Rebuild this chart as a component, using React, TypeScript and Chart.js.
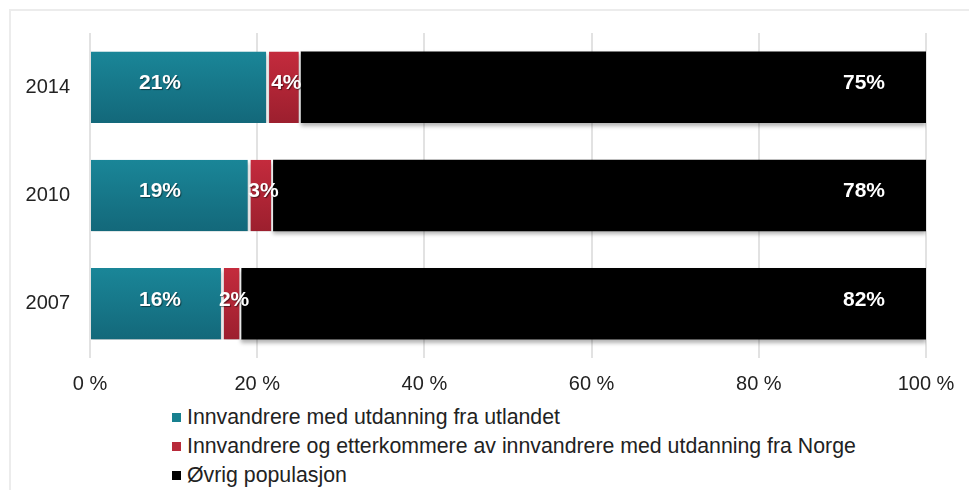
import React, { useEffect, useRef } from "react";
import { Chart, registerables } from "chart.js";

Chart.register(...registerables);

const years = ["2014", "2010", "2007"];
const utlandet = [21.3, 19.1, 15.9];
const norge = [3.9, 2.8, 2.2];
const ovrig = [74.8, 78.1, 81.9];
const labelsUtlandet = ["21%", "19%", "16%"];
const labelsNorge = ["4%", "3%", "2%"];
const labelsOvrig = ["75%", "78%", "82%"];
const seriesNames = [
  "Innvandrere med utdanning fra utlandet",
  "Innvandrere og etterkommere av innvandrere med utdanning fra Norge",
  "Øvrig populasjon",
];
const xTicks = [0, 20, 40, 60, 80, 100];

const FONT = "'Liberation Sans', Arial, sans-serif";

function gradientFor(top: string, bottom: string) {
  return (ctx: any) => {
    const chart = ctx.chart;
    const y = chart.scales?.y;
    if (!y || ctx.dataIndex === undefined) return top;
    const c = y.getPixelForValue(ctx.dataIndex);
    if (!Number.isFinite(c)) return top;
    const g = chart.ctx.createLinearGradient(0, c - 36, 0, c + 36);
    g.addColorStop(0, top);
    g.addColorStop(1, bottom);
    return g;
  };
}

const shadowPlugin = {
  id: "barShadow",
  beforeDatasetsDraw(chart: any) {
    const ctx = chart.ctx;
    ctx.save();
    ctx.shadowColor = "rgba(0,0,0,0.3)";
    ctx.shadowBlur = 4;
    ctx.shadowOffsetY = 3;
    ctx.shadowOffsetX = 0;
  },
  afterDatasetsDraw(chart: any) {
    chart.ctx.restore();
  },
};

const labelPlugin = {
  id: "segLabels",
  afterDatasetsDraw(chart: any) {
    const ctx = chart.ctx;
    const texts = [labelsUtlandet, labelsNorge, labelsOvrig];
    ctx.save();
    ctx.font = `bold 21px ${FONT}`;
    ctx.fillStyle = "#ffffff";
    ctx.textAlign = "center";
    ctx.textBaseline = "middle";
    ctx.shadowColor = "rgba(0,0,0,0.5)";
    ctx.shadowBlur = 1;
    ctx.shadowOffsetX = 1;
    ctx.shadowOffsetY = 1;
    for (let d = 0; d < 3; d++) {
      const meta = chart.getDatasetMeta(d);
      meta.data.forEach((bar: any, i: number) => {
        const { x, y, base } = bar.getProps(["x", "y", "base"], true);
        let tx: number;
        if (d === 0) tx = base + 69;
        else if (d === 1) tx = (x + base) / 2 + 2;
        else tx = x - 62;
        ctx.fillText(texts[d][i], tx, y - 4);
      });
    }
    ctx.restore();
  },
};

export default function App() {
  const ref = useRef<HTMLCanvasElement | null>(null);

  useEffect(() => {
    document.body.style.margin = "0";
    const canvas = ref.current!;
    const chart = new Chart(canvas, {
      type: "bar",
      data: {
        labels: years,
        datasets: [
          {
            label: seriesNames[0],
            data: utlandet,
            backgroundColor: gradientFor("#1a8698", "#13687a"),
            borderColor: "rgba(255,255,255,0.85)",
            borderWidth: { left: 0, right: 2, top: 0, bottom: 0 },
            borderSkipped: false,
          },
          {
            label: seriesNames[1],
            data: norge,
            backgroundColor: gradientFor("#c42b3d", "#9c1f2e"),
            borderColor: "rgba(255,255,255,0.85)",
            borderWidth: { left: 1, right: 2, top: 0, bottom: 0 },
            borderSkipped: false,
          },
          {
            label: seriesNames[2],
            data: ovrig,
            backgroundColor: "#000000",
            borderWidth: 0,
          },
        ],
      },
      options: {
        indexAxis: "y",
        responsive: false,
        animation: false,
        layout: { padding: { top: 33, right: 43, left: 0, bottom: 0 } },
        datasets: {
          bar: { categoryPercentage: 1, barPercentage: 0.66 },
        },
        plugins: {
          legend: { display: false },
          tooltip: { enabled: false },
        },
        scales: {
          x: {
            stacked: true,
            min: 0,
            max: 100,
            afterFit: (s: any) => {
              s.height = 42;
            },
            afterBuildTicks: (s: any) => {
              s.ticks = xTicks.map((v) => ({ value: v }));
            },
            grid: { color: "#e2e2e2", lineWidth: 2, drawTicks: false },
            border: { display: false },
            ticks: {
              padding: 14,
              color: "#222",
              font: { family: FONT, size: 20 },
              callback: (v: any) => `${v} %`,
            },
          },
          y: {
            stacked: true,
            afterFit: (s: any) => {
              s.width = 90;
            },
            grid: { display: false, drawTicks: false },
            border: { display: false },
            ticks: {
              padding: 20,
              color: "#222",
              font: { family: FONT, size: 20 },
            },
          },
        },
      },
      plugins: [shadowPlugin, labelPlugin],
    } as any);
    return () => chart.destroy();
  }, []);

  const colors = ["#17808f", "#b82a3a", "#000000"];

  return (
    <div style={{ position: "relative", width: 969, height: 490, background: "#fff", overflow: "hidden" }}>
      <div
        style={{
          position: "absolute",
          left: 9,
          top: 9,
          right: 0,
          bottom: 0,
          borderTop: "2px solid #ececec",
          borderLeft: "2px solid #ececec",
        }}
      />
      <canvas ref={ref} width={969} height={400} style={{ position: "absolute", left: 0, top: 0, width: 969, height: 400 }} />
      <div
        style={{
          position: "absolute",
          left: 172,
          top: 403,
          fontFamily: FONT,
          fontSize: 21.3,
          color: "#222",
          lineHeight: "29px",
        }}
      >
        {seriesNames.map((n, i) => (
          <div key={n} style={{ display: "flex", alignItems: "center", whiteSpace: "nowrap" }}>
            <span style={{ display: "inline-block", width: 9, height: 9, background: colors[i], marginRight: 6 }} />
            <span>{n}</span>
          </div>
        ))}
      </div>
    </div>
  );
}
